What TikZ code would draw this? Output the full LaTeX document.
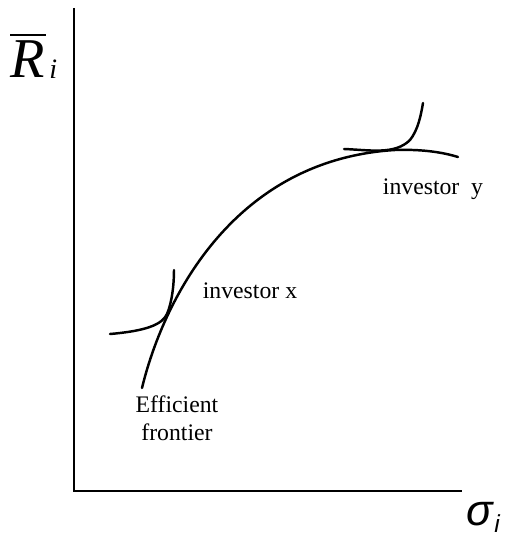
\documentclass[tikz,border=0pt]{standalone}
\usepackage{fontspec}
\setmainfont{Liberation Serif}
\newfontfamily\symfont{Liberation Sans}
\usetikzlibrary{positioning}

\begin{document}
\begin{tikzpicture}[
    x=0.02cm, y=-0.02cm,
    ax/.style={line width=1.4pt, color=black},
    cv/.style={line width=1.4pt, color=black, line cap=round},
    lbl/.style={font=\fontsize{13.5}{16}\selectfont, inner sep=0pt, align=center}
]
\useasboundingbox (0,0) rectangle (506,537);

% axes
\coordinate (origin) at (74,491);
\coordinate (ytop)   at (74,8);
\coordinate (xend)   at (462,491);
\draw[ax] (ytop) -- (origin) -- (xend);

% axis labels
\node[inner sep=0pt, font=\fontsize{32}{34}\selectfont\itshape] (rlet) at (28,59) {R};
\node[inner sep=0pt, font=\fontsize{16}{18}\selectfont\itshape, anchor=base west] (rsub) at (49,79) {i};
\draw[line width=1.3pt] ([yshift=3pt]rlet.north west) -- ([yshift=3pt]rlet.north east);
\node[inner sep=0pt, font=\fontsize{25}{28}\selectfont\symfont\itshape, anchor=base] (sig) at (480,525) {σ};
\node[inner sep=0pt, font=\fontsize{14}{16}\selectfont\symfont\itshape, anchor=base west] (sigsub) at (494,532) {i};

% efficient frontier
\draw[cv] (142,388) .. controls (162,305) and (230,160) .. (395,150)
          .. controls (425,149) and (445,153) .. (458,157);

% indifference curves
\draw[cv] (110,334) .. controls (145,331) and (162,325) .. (167,314)
          .. controls (172,302) and (174,285) .. (174,270);
\draw[cv] (344,149) .. controls (370,150) and (395,155) .. (410,140)
          .. controls (418,130) and (421,115) .. (423,103);

% labels
\node[lbl] (invx) at (250,291) {investor x};
\node[lbl] (invy) at (433,189) {investor\ \ y};
\node[lbl] (front) at (177,418) {Efficient\\frontier};
\end{tikzpicture}
\end{document}
